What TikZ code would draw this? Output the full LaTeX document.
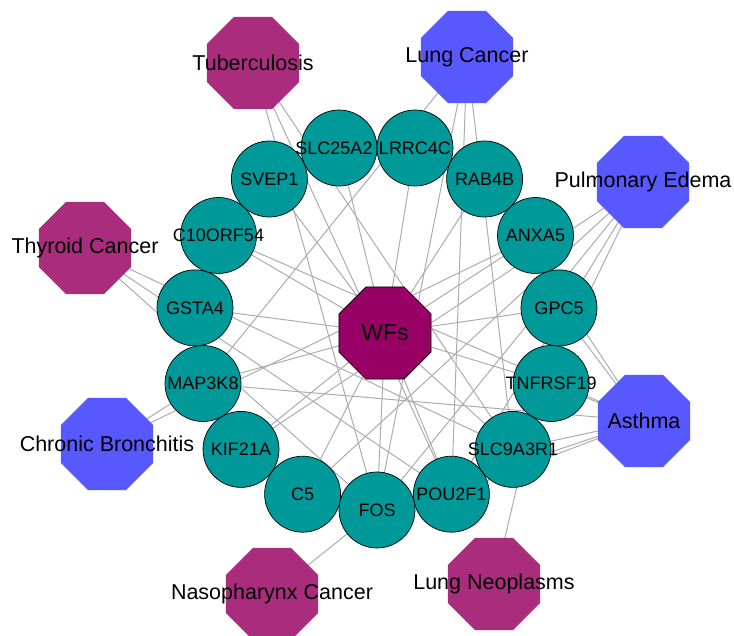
\documentclass[tikz,border=0pt]{standalone}
\usepackage{fontspec}
\setmainfont{Liberation Sans}
\usetikzlibrary{shapes.geometric,backgrounds}
\definecolor{genefill}{RGB}{0,153,153}
\definecolor{wfsfill}{RGB}{153,0,102}
\definecolor{dmag}{RGB}{170,45,125}
\definecolor{dblue}{RGB}{88,88,255}
\definecolor{edgegray}{RGB}{172,172,172}
\begin{document}
\begin{tikzpicture}[x=1pt,y=-1pt,
  gene/.style={circle,draw=black,line width=0.7pt,fill=genefill,minimum size=76pt,inner sep=0pt,outer sep=0pt},
  oct/.style={regular polygon,regular polygon sides=8,minimum size=99.6pt,inner sep=0pt,outer sep=0pt,draw=none},
  disA/.style={oct,fill=dmag},
  disB/.style={oct,fill=dblue},
  hub/.style={oct,fill=wfsfill,draw=black,line width=0.7pt},
  edge/.style={draw=edgegray,line width=1pt},
  glab/.style={font=\fontsize{18}{18}\selectfont},
  dlab/.style={font=\fontsize{21.5}{21.5}\selectfont},
  hlab/.style={font=\fontsize{23}{23}\selectfont}]
\useasboundingbox (0,0) rectangle (734,635);
\clip (0,0) rectangle (734,635);
% diseases
\node[disA,label={[dlab]center:Tuberculosis}] (tb) at (253,63) {};
\node[disB,label={[dlab]center:Lung Cancer}] (lc) at (467,57) {};
\node[disB,label={[dlab]center:Pulmonary Edema}] (pe) at (643,182) {};
\node[disB,label={[dlab]center:Asthma}] (as) at (644,421) {};
\node[disA,label={[dlab]center:Lung Neoplasms}] (ln) at (494,584) {};
\node[disA,label={[dlab]center:Nasopharynx Cancer}] (nc) at (272,594) {};
\node[disB,label={[dlab]center:Chronic Bronchitis}] (cb) at (107,444) {};
\node[disA,label={[dlab]center:Thyroid Cancer}] (tc) at (85,248) {};
% hub
\node[hub,label={[hlab]center:WFs}] (wfs) at (385,333) {};
% genes
\node[gene,label={[glab]center:C5}] (c5) at (302.6,494.2) {};
\node[gene,label={[glab]center:KIF21A}] (kif) at (241.0,449.4) {};
\node[gene,label={[glab]center:MAP3K8}] (map) at (203.0,383.5) {};
\node[gene,label={[glab]center:GSTA4}] (gst) at (195.0,307.9) {};
\node[gene,label={[glab]center:C10ORF54}] (c10) at (218.5,235.5) {};
\node[gene,label={[glab]center:SVEP1}] (svep) at (269.4,179.0) {};
\node[gene,label={[glab]center:SLC25A2\hphantom{1}}] (slc25) at (339.0,148.0) {};
\node[gene,label={[glab]center:LRRC4C}] (lrrc) at (415.0,148.0) {};
\node[gene,label={[glab]center:RAB4B}] (rab) at (484.6,179.0) {};
\node[gene,label={[glab]center:ANXA5}] (anx) at (535.5,235.5) {};
\node[gene,label={[glab]center:GPC5}] (gpc) at (559.0,307.9) {};
\node[gene,label={[glab]center:TNFRSF19}] (tnf) at (551.1,383.5) {};
\node[gene,label={[glab]center:SLC9A3R1}] (slc9) at (513.0,449.4) {};
\node[gene,label={[glab]center:POU2F1}] (pou) at (451.4,494.2) {};
\node[gene,label={[glab]center:FOS}] (fos) at (377,510) {};
\begin{pgfonlayer}{background}
\foreach \g in {c5,kif,map,gst,c10,svep,slc25,lrrc,rab,anx,gpc,tnf,slc9,pou,fos}
  \draw[edge] (wfs.center) -- (\g.center);
\foreach \g in {fos,pou,slc9} \draw[edge] (tb.center) -- (\g.center);
\foreach \g in {map,fos,pou,slc9} \draw[edge] (lc.center) -- (\g.center);
\foreach \g in {kif,c5,fos,pou,slc9} \draw[edge] (pe.center) -- (\g.center);
\foreach \g in {gpc,rab,tnf,map,c10,slc9,pou,fos} \draw[edge] (as.center) -- (\g.center);
\draw[edge] (ln.center) -- (gpc.center);
\draw[edge] (nc.center) -- (fos.center);
\foreach \g in {map,anx} \draw[edge] (cb.center) -- (\g.center);
\foreach \g in {slc9,pou,fos} \draw[edge] (tc.center) -- (\g.center);
\end{pgfonlayer}
\end{tikzpicture}
\end{document}
